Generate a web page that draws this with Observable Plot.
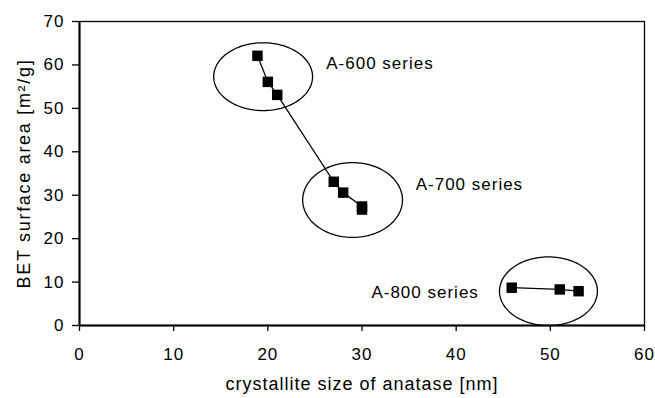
<!DOCTYPE html>
<html><head><meta charset="utf-8">
<script src="https://cdn.jsdelivr.net/npm/d3@7"></script>
<script src="https://cdn.jsdelivr.net/npm/@observablehq/plot@0.6"></script>
<style>body{margin:0;background:#fff}</style>
</head><body><div id="chart"></div>
<script>
// ---- data ----
const sizeA600 = [18.9, 20.0, 21.0];
const areaA600 = [62.1, 56.1, 53.1];
const sizeA700 = [27.0, 28.0, 30.0, 30.0];
const areaA700 = [33.1, 30.6, 27.4, 26.7];
const sizeA800 = [45.9, 51.0, 53.0];
const areaA800 = [8.7, 8.3, 7.9];

const xTicks = [0, 10, 20, 30, 40, 50, 60];
const yTicks = [0, 10, 20, 30, 40, 50, 60, 70];
const xTitle = "crystallite size of anatase [nm]";
const yTitle = "BET surface area [m\u00B2/g]";

// series annotations: label anchor and encircling ellipse (data units)
const seriesNames = ["A-600 series", "A-700 series", "A-800 series"];
const labelX = [26.2, 35.7, 31.0];
const labelY = [60.3, 32.5, 7.5];
const ellipseCx = [19.5, 29.0, 49.8];
const ellipseCy = [57.3, 28.9, 7.9];
const ellipseRx = [5.25, 5.3, 5.2];
const ellipseRy = [7.8, 8.6, 7.9];

// ---- build tables ----
const upper = [
  ...sizeA600.map((x, i) => ({x, y: areaA600[i], s: "A-600"})),
  ...sizeA700.map((x, i) => ({x, y: areaA700[i], s: "A-700"}))
];
const lower = sizeA800.map((x, i) => ({x, y: areaA800[i], s: "A-800"}));
const labels = seriesNames.map((name, i) => ({name, x: labelX[i], y: labelY[i]}));
const ellipsePts = [];
seriesNames.forEach((name, i) => {
  for (let a = 0; a <= 360; a += 3) {
    const t = a * Math.PI / 180;
    ellipsePts.push({name, x: ellipseCx[i] + ellipseRx[i] * Math.cos(t), y: ellipseCy[i] + ellipseRy[i] * Math.sin(t)});
  }
});

const plot = Plot.plot({
  width: 655, height: 398,
  marginLeft: 79, marginRight: 11, marginTop: 21, marginBottom: 73,
  style: {fontFamily: "'Liberation Sans', Arial, sans-serif", fontSize: "17px", color: "#000", background: "#fff"},
  x: {domain: [0, 60]},
  y: {domain: [0, 70]},
  marks: [
    Plot.frame({stroke: "#000", strokeWidth: 1.3}),
    Plot.axisX({ticks: xTicks, tickSize: 6, tickPadding: 16, strokeWidth: 1.3, label: xTitle, labelAnchor: "center", labelOffset: 64, labelArrow: "none"}),
    Plot.axisY({ticks: yTicks, tickSize: 7, tickPadding: 8, strokeWidth: 1.3, label: yTitle, labelAnchor: "center", labelOffset: 62, labelArrow: "none"}),
    Plot.ruleX([0], {stroke: "#000", strokeWidth: 2}),
    Plot.ruleY([0], {stroke: "#000", strokeWidth: 2}),
    Plot.line(ellipsePts, {x: "x", y: "y", z: "name", stroke: "#000", strokeWidth: 1.3}),
    Plot.line(upper, {x: "x", y: "y", stroke: "#000", strokeWidth: 1.3}),
    Plot.line(lower, {x: "x", y: "y", stroke: "#000", strokeWidth: 1.3}),
    Plot.dot(upper.concat(lower), {x: "x", y: "y", symbol: "square", r: 5.9, fill: "#000", stroke: "none"}),
    Plot.text(labels, {x: "x", y: "y", text: "name", textAnchor: "start", fill: "#000", fontSize: 17})
  ]
});
document.getElementById("chart").appendChild(plot);
const svg = d3.select(plot);
svg.selectAll("text").style("letter-spacing", "1px");
svg.selectAll('[aria-label="x-axis label"] text').style("font-size", "18px").style("letter-spacing", "1px");
svg.selectAll('[aria-label="y-axis label"] text').style("font-size", "18px").style("letter-spacing", "1.7px");
</script>
</body></html>
